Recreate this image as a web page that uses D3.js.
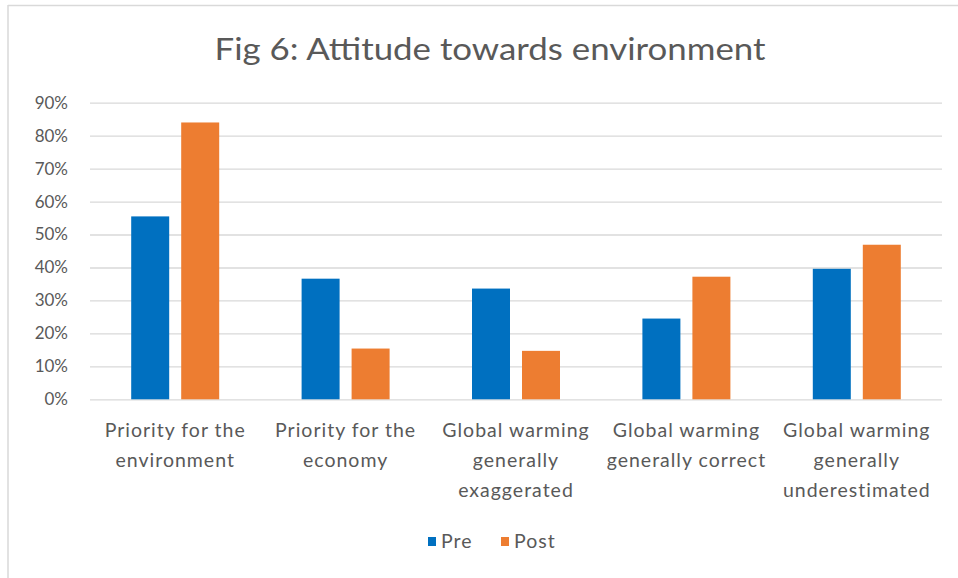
<!DOCTYPE html>
<html><head><meta charset="utf-8">
<script src="https://cdn.jsdelivr.net/npm/d3@7"></script>
<style>body{margin:0;background:#fff}svg{display:block}text{font-family:Lato,"Open Sans",sans-serif;fill:#595959}</style>
</head><body><svg id="c" width="958" height="578"></svg>
<script>
const title = "Fig 6: Attitude towards environment";
const categories = [
  ["Priority for the","environment"],
  ["Priority for the","economy"],
  ["Global warming","generally","exaggerated"],
  ["Global warming","generally correct"],
  ["Global warming","generally","underestimated"]
];
const seriesNames = ["Pre","Post"];
const preValues = [0.555, 0.366, 0.336, 0.245, 0.396];
const postValues = [0.84, 0.154, 0.147, 0.372, 0.469];
const yTicks = [0,0.1,0.2,0.3,0.4,0.5,0.6,0.7,0.8,0.9];
const colors = ["#0070C0","#ED7D31"];

const svg = d3.select("#c");
// frame
svg.append("line").attr("x1",8).attr("x2",958).attr("y1",5.5).attr("y2",5.5).attr("stroke","#d9d9d9").attr("stroke-width",1.5);
svg.append("line").attr("x1",8).attr("x2",8).attr("y1",5).attr("y2",578).attr("stroke","#d9d9d9").attr("stroke-width",1.5);

svg.append("text").attr("x",490).attr("y",60).attr("text-anchor","middle")
  .style("font-size","31px").attr("textLength",551).attr("lengthAdjust","spacingAndGlyphs").text(title);

const x = d3.scaleBand().domain(d3.range(categories.length)).range([90,942]);
const y = d3.scaleLinear().domain([0,0.9]).range([399.3,102.7]);
const xs = d3.scaleBand().domain(seriesNames).range([0, 88]).paddingInner(0.24);

const yAxis = d3.axisLeft(y).tickValues(yTicks).tickFormat(d3.format(".0%")).tickSize(-852).tickPadding(20);
const ga = svg.append("g").attr("transform","translate(90,0)").call(yAxis);
ga.select(".domain").remove();
ga.selectAll(".tick line").attr("stroke","#d9d9d9").attr("stroke-width",1.3);
ga.selectAll(".tick text").style("font-size","17px").attr("fill","#595959").attr("x",-22);

const data = categories.map((c,i)=>({i, vals:[preValues[i], postValues[i]]}));
const g = svg.append("g").selectAll("g").data(data).join("g")
  .attr("transform",d=>`translate(${x(d.i)+x.bandwidth()/2-44},0)`);
g.selectAll("rect").data(d=>d.vals.map((v,k)=>({v,k}))).join("rect")
  .attr("x",d=>xs(seriesNames[d.k])).attr("width",xs.bandwidth())
  .attr("y",d=>y(d.v)).attr("height",d=>y(0)-y(d.v)).attr("fill",d=>colors[d.k]);

const lab = svg.append("g").selectAll("text").data(categories).join("text")
  .attr("x",(d,i)=>x(i)+x.bandwidth()/2).attr("y",437).attr("text-anchor","middle")
  .style("font-size","19.5px").style("letter-spacing","1px");
lab.selectAll("tspan").data(d=>d).join("tspan").attr("x",function(){return this.parentNode.getAttribute("x");})
  .attr("dy",(d,i)=>i===0?0:30).text(d=>d);

const legX = [428, 501];
const leg = svg.append("g").selectAll("g").data(seriesNames).join("g").attr("transform",(d,i)=>`translate(${legX[i]},0)`);
leg.append("rect").attr("x",0).attr("y",537).attr("width",8).attr("height",9).attr("fill",(d,i)=>colors[i]);
leg.append("text").attr("x",13).attr("y",548).style("font-size","19.5px").style("letter-spacing","1px").text(d=>d);
</script></body></html>
